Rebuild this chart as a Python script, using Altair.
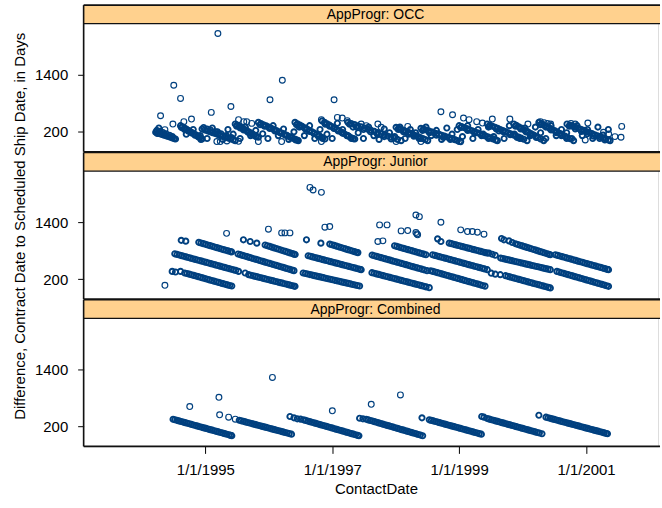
import altair as alt
import pandas as pd

# ---------------- data (day offsets from 1995-01-01, value in days) ----------------
PANELS = ["AppProgr: OCC", "AppProgr: Junior", "AppProgr: Combined"]

# ---- OCC ----
OCC_T1 = [(-286,190),(-274,176),(-262,160),(-250,146),(-238,131),(-226,116),(-214,101),(-202,86),(-190,70),(-180,58),(-172,49),
          (-280,230),(-262,212),(-244,186),(-226,160),(-206,128),(-190,100),(-277,168),(-268,280)]
OCC_T2 = [(-143,330),(-132,306),(-121,282),(-110,258),(-99,233),(-88,208),(-77,184),(-66,160),(-55,136),(-44,110),(-33,86),(-24,62),(-19,49),
          (-138,290),(-120,250),(-100,216),(-80,176),(-60,130),(-40,92),(-26,40)]
OCC_T3 = [(-19,259),(-4,240),(11,221),(26,202),(41,183),(56,164),(71,145),(86,126),(101,107),(116,88),(131,68),(146,49),(160,31),(172,15),
          (-10,290),(10,260),(30,236),(60,200),(90,160),(120,120),(150,80)]
OCC_T4 = [(172,364),(183,341),(194,318),(205,295),(216,272),(227,249),(238,225),(249,202),(260,178),(271,155),(282,132),(294,108),(305,85),
          (180,320),(200,280),(220,240),(245,190),(270,140),(290,100)]
OCC_T5 = [(305,400),(320,375),(335,350),(350,325),(365,300),(380,274),(395,249),(410,224),(425,199),(440,174),(455,149),(470,124),(485,99),(500,73),(515,48),(528,27),(535,15),
          (315,350),(340,320),(370,270),(400,220),(430,180),(460,130),(490,80),(520,30)]
OCC_T6 = [(516,400),(530,371),(544,343),(558,314),(572,286),(586,257),(600,228),(614,200),(628,171),(642,143),(656,114),(670,86),(688,49),
          (525,350),(550,310),(575,260),(600,210),(625,160),(650,110),(675,60)]
OCC_T7 = [(672,430),(686,400),(700,371),(714,341),(728,312),(742,282),(756,253),(770,223),(784,194),(798,164),(812,134),(826,105),(840,75),(852,55),(860,49),
          (690,360),(715,320),(740,270),(765,220),(790,170),(815,120),(840,60)]
OCC_T8 = [(821,400),(840,376),(859,352),(878,328),(897,304),(916,280),(935,256),(954,232),(973,208),(992,184),(1011,160),(1030,136),(1049,112),(1068,88),(1087,64),(1106,40),(1127,15),
          (830,360),(870,300),(910,250),(950,200),(990,150),(1030,100),(1070,50)]
OCC_T9 = [(1098,295),(1112,274),(1126,252),(1140,231),(1154,209),(1168,188),(1182,166),(1196,145),(1210,123),(1224,101),(1238,80),(1252,58),(1266,37),(1280,15),
          (1110,250),(1140,200),(1170,150),(1200,110),(1230,60)]
OCC_T10 = [(1241,274),(1256,256),(1271,238),(1286,219),(1301,201),(1316,183),(1331,164),(1346,146),(1361,128),(1376,110),(1391,91),(1406,73),(1421,55),(1436,36),(1451,18),(1470,-6),
           (1250,230),(1290,180),(1330,130),(1370,80),(1410,40)]
OCC_T11 = [(1461,330),(1476,309),(1491,287),(1506,266),(1521,244),(1536,223),(1551,201),(1566,180),(1581,158),(1596,137),(1611,115),(1626,94),(1641,72),(1656,51),(1671,29),(1681,15),
           (1470,290),(1510,230),(1550,170),(1590,120),(1630,60)]
OCC_T12 = [(1623,364),(1638,341),(1653,318),(1668,296),(1683,273),(1698,250),(1713,227),(1728,204),(1743,181),(1758,158),(1773,135),(1788,112),(1803,89),(1818,66),(1833,44),(1852,15),
           (1635,320),(1675,260),(1715,200),(1755,140),(1795,80)]
OCC_T13 = [(1776,364),(1790,336),(1804,307),(1818,279),(1832,250),(1846,222),(1860,193),(1874,165),(1888,137),(1902,108),(1916,80),(1930,51),(1948,15),
           (1785,320),(1815,260),(1845,200),(1875,140),(1905,80)]
OCC_T14 = [(1920,400),(1935,371),(1950,342),(1965,313),(1980,284),(1995,255),(2010,227),(2025,198),(2040,169),(2055,140),(2070,111),(2085,82),(2100,54),(2120,15),
           (1930,350),(1960,300),(1990,240),(2020,180),(2050,120),(2080,60)]
OCC_T15 = [(2082,364),(2098,342),(2114,319),(2130,297),(2146,274),(2162,252),(2178,229),(2194,207),(2210,184),(2226,162),(2242,139),(2258,117),(2274,94),(2290,72),(2306,49),(2320,29),(2330,15),
           (2095,320),(2130,260),(2165,210),(2200,160),(2235,110),(2270,60),(2300,30)]
OCC_FILL = [(-110,150),(-70,250),(-30,120),(10,60),(40,280),(70,200),(100,40),(130,250),(160,150),(200,60),(230,300),(260,120),
            (290,230),(330,160),(360,60),(390,330),(420,120),(450,260),(480,40),(510,200),(540,300),(570,120),(600,330),(630,60),
            (660,250),(700,150),(730,60),(760,380),(790,250),(820,120),(850,300),(880,180),(910,60),(940,300),(970,120),(1000,40),
            (1030,260),(1060,180),(1090,100),(1120,300),(1150,60),(1180,250),(1210,180),(1240,60),(1270,300),(1300,120),(1330,230),
            (1360,40),(1390,280),(1420,150),(1450,250),(1480,100),(1510,330),(1540,60),(1570,250),(1600,150),(1630,300),(1660,100),
            (1690,220),(1720,60),(1750,330),(1780,150),(1810,60),(1840,280),(1870,120),(1900,300),(1930,180),(1960,60),(1990,330),
            (2020,120),(2050,250),(2080,180),(2110,60),(2140,330),(2170,120),(2200,250),(2230,60),(2260,300),(2290,130),(2320,250)]
OCC_OUT = [(72,2275),(-182,1183),(-143,904),(-258,540),(-187,364),(-233,246),(-124,414),(-80,469),(34,610),(147,735),
           (191,456),(221,414),(238,414),(267,378),(372,876),(443,1288),(668,456),(741,876),(760,504),(788,490),(817,435),
           (897,364),(926,330),(993,364),(1012,295),(1165,315),(1257,246),(1356,624),(1423,561),(1486,490),(1518,456),
           (1562,414),(1595,385),(1652,469),(1753,469),(1857,364),(1929,414),(1950,393),(1969,378),(1988,364),(2105,378),
           (2129,364),(2202,385),(2187,28),(2358,99),(2393,85),(2397,315),(2292,190),(2322,154),
           (66,-6),(86,-6),(124,7),(191,0),(305,-6),(439,-6),(668,-6),(1098,-6),(1241,-6),(1461,-6)]

# ---- Junior ----
JUN_L1 = [(-191,364),(-172,351),(-143,364),(-119,330),(-106,320),(-93,306),(-80,293),(-67,280),(-54,266),(-41,253),(-28,239),(-15,226),(-2,212),(11,199),(24,185),(37,172),(50,158),(63,145),(76,132),(89,118),(102,105),(115,91),(128,78),(140,66),(152,55)]
JUN_M1 = [(-176,735),(-163,722),(-150,709),(-137,696),(-124,683),(-111,670),(-98,657),(-85,644),(-72,631),(-59,618),(-46,605),(-33,592),(-20,579),(-7,566),(6,553),(19,540),(32,527),(45,514),(58,501),(71,488),(84,475),(97,462),(110,449),(123,436),(136,423),(149,410),(162,397),(175,385)]
JUN_U1 = [(-139,1019),(-113,1002),(-38,977),(-25,963),(-12,949),(1,935),(14,921),(27,907),(40,893),(53,879),(66,865),(79,851),(92,837),(105,823),(118,809),(131,795),(144,782),(151,775)]
JUN_M2 = [(188,730),(201,716),(214,702),(227,688),(240,674),(253,659),(266,645),(279,631),(292,617),(305,603),(318,589),(331,575),(344,560),(357,546),(370,532),(383,518),(396,504),(409,490),(422,476),(435,462),(448,448),(461,433),(474,419),(487,405),(500,391),(510,380)]
JUN_L2 = [(191,364),(229,330),(249,295),(262,283),(275,271),(288,259),(301,247),(314,235),(327,223),(340,211),(353,199),(366,187),(379,175),(392,163),(405,151),(418,139),(431,127),(444,115),(457,103),(470,91),(483,79),(496,67),(508,56),(516,49)]
JUN_U2 = [(219,1030),(258,994),(296,960),(344,920),(357,905),(370,890),(383,875),(396,860),(409,845),(422,830),(435,815),(448,800),(461,785),(474,770),(487,755),(500,740),(510,728),(517,720)]
JUN_U3 = [(582,1030),(665,960),(716,940),(729,925),(742,911),(755,896),(768,882),(781,867),(794,852),(807,838),(820,823),(833,809),(846,794),(859,780),(870,768),(878,760)]
JUN_M3 = [(592,694),(605,682),(618,669),(631,657),(644,644),(657,632),(670,619),(683,607),(696,594),(709,582),(722,569),(735,557),(748,544),(761,532),(774,519),(787,507),(800,494),(813,482),(826,469),(839,457),(852,444),(865,432),(878,419),(889,408),(897,400)]
JUN_L3 = [(563,330),(576,319),(589,308),(602,297),(615,286),(628,275),(641,264),(654,253),(667,242),(680,231),(693,220),(706,209),(719,198),(732,187),(745,176),(758,165),(771,154),(784,143),(797,132),(810,121),(823,110),(836,99),(849,88),(862,77),(875,66),(888,55)]
JUN_U4 = [(1089,904),(1102,890),(1115,877),(1128,863),(1141,850),(1154,836),(1167,822),(1180,809),(1193,795),(1206,782),(1219,768),(1232,754),(1245,741),(1258,727),(1270,714)]
JUN_M4 = [(960,708),(973,694),(986,681),(999,667),(1012,654),(1025,640),(1038,627),(1051,613),(1064,600),(1077,586),(1090,573),(1103,559),(1116,546),(1129,532),(1142,519),(1155,505),(1168,492),(1181,478),(1194,465),(1207,451),(1220,438),(1233,424),(1246,411),(1259,397),(1276,379)]
JUN_L4 = [(959,337),(972,325),(985,312),(998,300),(1011,287),(1024,275),(1037,262),(1050,250),(1063,237),(1076,225),(1089,212),(1102,200),(1115,187),(1128,175),(1141,162),(1154,150),(1167,137),(1180,125),(1193,112),(1206,100),(1219,87),(1232,75),(1245,62),(1258,50),(1271,37),(1289,21)]
JUN_U5 = [(1337,1050),(1356,994),(1404,960),(1417,948),(1430,935),(1443,923),(1456,910),(1469,898),(1482,885),(1495,873),(1508,860),(1521,848),(1534,835),(1547,823),(1560,810),(1573,798),(1586,785),(1599,773),(1612,760),(1623,750)]
JUN_M5 = [(1308,715),(1321,702),(1334,689),(1347,676),(1360,663),(1373,650),(1386,637),(1399,624),(1412,611),(1425,598),(1438,585),(1451,572),(1464,559),(1477,546),(1490,533),(1503,520),(1516,507),(1529,494),(1542,481),(1555,468),(1568,455),(1581,442),(1594,429),(1607,416),(1623,400)]
JUN_L5 = [(1297,378),(1310,364),(1323,351),(1336,337),(1349,324),(1362,310),(1375,297),(1388,283),(1401,270),(1414,256),(1427,243),(1440,229),(1453,216),(1466,202),(1479,189),(1492,175),(1505,162),(1518,148),(1531,135),(1544,121),(1557,108),(1570,94),(1583,81),(1596,67),(1610,53)]
JUN_U6 = [(1705,1057),(1719,1030),(1748,1008),(1767,973),(1786,946),(1799,931),(1812,916),(1825,901),(1838,886),(1851,871),(1864,856),(1877,841),(1890,826),(1903,811),(1916,796),(1929,781),(1942,766),(1955,751),(1968,736),(1978,724),(1986,715)]
JUN_M6 = [(1633,750),(1652,725),(1669,704),(1700,645),(1713,634),(1726,623),(1739,612),(1752,601),(1765,590),(1778,578),(1791,567),(1804,556),(1817,545),(1830,534),(1843,523),(1856,511),(1869,500),(1882,489),(1895,478),(1908,467),(1921,456),(1934,445),(1947,433),(1960,422),(1973,411),(1986,400)]
JUN_L6 = [(1646,326),(1669,305),(1698,295),(1728,273),(1741,260),(1754,247),(1767,234),(1780,221),(1793,208),(1806,195),(1819,182),(1832,169),(1845,156),(1858,143),(1871,130),(1884,117),(1897,104),(1910,91),(1923,78),(1936,65),(1949,52),(1962,39),(1975,26),(1986,15)]
JUN_M7 = [(2015,715),(2028,702),(2041,688),(2054,675),(2067,662),(2080,648),(2093,635),(2106,621),(2119,608),(2132,595),(2145,581),(2158,568),(2171,555),(2184,541),(2197,528),(2210,514),(2223,501),(2236,488),(2249,474),(2262,461),(2275,448),(2288,434),(2301,421),(2314,407),(2321,400)]
JUN_L7 = [(2024,364),(2037,350),(2050,336),(2063,323),(2076,309),(2089,295),(2102,281),(2115,268),(2128,254),(2141,240),(2154,226),(2167,213),(2180,199),(2193,185),(2206,171),(2219,158),(2232,144),(2245,130),(2258,116),(2271,103),(2284,89),(2297,75),(2310,61),(2321,49)]
JUN_OUT = [(-233,70),(122,1166),(363,1254),(439,1176),(458,1176),(487,1176),(688,1296),(716,1309),(602,2136),(620,2080),(668,2031),
           (1003,1345),(1046,1345),(993,994),(1022,1008),(1127,1218),(1165,1225),(1212,1554),(1232,1519),(1212,1183),(1222,1135),(1218,1155),
           (1356,1401),(1470,1240),(1509,1204),(1537,1204),(1566,1191),(1604,1149)]

# ---- Combined ----
COM_A = [(-186,353),(-176,343),(-164,330),(-152,318),(-140,306),(-128,293),(-116,281),(-104,269),(-92,257),(-80,244),(-68,232),(-56,220),(-44,208),(-32,195),(-20,183),(-8,171),(4,159),(16,146),(28,134),(40,122),(52,110),(64,97),(76,85),(88,73),(100,61),(112,48),(124,36),(136,24),(146,13),(152,6)]
COM_B = [(195,332),(207,320),(219,309),(231,297),(243,285),(255,273),(267,262),(279,250),(291,238),(303,227),(315,215),(327,203),(339,191),(351,180),(363,168),(375,156),(387,145),(399,133),(411,121),(423,110),(435,98),(447,86),(459,74),(471,63),(483,51),(496,38)]
COM_C = [(487,410),(510,383),(529,362),(548,354),(565,341),(577,328),(589,316),(601,303),(613,290),(625,278),(637,265),(649,253),(661,240),(673,227),(685,215),(697,202),(709,189),(721,177),(733,164),(745,151),(757,139),(769,126),(781,114),(793,101),(805,88),(817,76),(829,63),(841,50),(853,38),(865,25),(877,12),(884,5)]
COM_D = [(888,374),(907,362),(926,353),(938,340),(950,327),(962,315),(974,302),(986,289),(998,276),(1010,263),(1022,250),(1034,237),(1046,224),(1058,212),(1070,199),(1082,186),(1094,173),(1106,160),(1118,147),(1130,134),(1142,122),(1154,109),(1166,96),(1178,83),(1190,70),(1202,57),(1214,45),(1226,32),(1238,19),(1251,5)]
COM_E = [(1247,383),(1289,341),(1301,329),(1313,317),(1325,305),(1337,293),(1349,280),(1361,268),(1373,256),(1385,244),(1397,232),(1409,220),(1421,208),(1433,196),(1445,184),(1457,172),(1469,159),(1481,147),(1493,135),(1505,123),(1517,111),(1529,99),(1541,87),(1553,74),(1565,62),(1577,50),(1589,38)]
COM_F = [(1591,410),(1604,396),(1623,368),(1635,356),(1647,343),(1659,331),(1671,319),(1683,307),(1695,294),(1707,282),(1719,270),(1731,258),(1743,245),(1755,233),(1767,221),(1779,209),(1791,196),(1803,184),(1815,172),(1827,160),(1839,148),(1851,135),(1863,123),(1875,111),(1887,99),(1899,87),(1911,74),(1923,62),(1938,47)]
COM_G = [(1920,437),(1961,396),(1973,384),(1985,372),(1997,360),(2009,349),(2021,337),(2033,325),(2045,313),(2057,301),(2069,290),(2081,278),(2093,266),(2105,254),(2117,242),(2129,230),(2141,219),(2153,207),(2165,195),(2177,183),(2189,171),(2201,160),(2213,148),(2225,136),(2237,124),(2249,112),(2261,101),(2273,89),(2285,77),(2297,65),(2309,53),(2315,47)]
COM_OUT = [(-90,620),(78,815),(82,446),(134,396),(172,354),(386,1235),(731,530),(955,668),(1123,866)]

# streak lists ("band") and isolated points ("out")
GROUPS = {
    "AppProgr: OCC": ([OCC_T1, OCC_T2, OCC_T3, OCC_T4, OCC_T5, OCC_T6, OCC_T7, OCC_T8, OCC_T9, OCC_T10,
                       OCC_T11, OCC_T12, OCC_T13, OCC_T14, OCC_T15, OCC_FILL], [OCC_OUT]),
    "AppProgr: Junior": ([JUN_L1, JUN_M1, JUN_U1, JUN_M2, JUN_L2, JUN_U2, JUN_U3, JUN_M3, JUN_L3, JUN_U4, JUN_M4,
                          JUN_L4, JUN_U5, JUN_M5, JUN_L5, JUN_U6, JUN_M6, JUN_L6, JUN_M7, JUN_L7], [JUN_OUT]),
    "AppProgr: Combined": ([COM_A, COM_B, COM_C, COM_D, COM_E, COM_F, COM_G], [COM_OUT]),
}

BASE = pd.Timestamp("1995-01-01")
TICK_YEARS = [1995, 1997, 1999, 2001]
Y_TICKS = [200, 1400]

# ---------------- layout ----------------
W = 577.0          # visible plot width
H = 147.3          # strip + plot height of one panel
STRIP = 18.7
FONT = "Liberation Sans"
STRIP_FILL = "#FFD18E"
PT_COLOR = "#00407F"
LINE = "#111111"

X_DOMAIN = [alt.DateTime(year=1993, month=1, date=30, utc=True),
            alt.DateTime(year=2002, month=2, date=19, utc=True)]
Y_DOMAIN = [-220, 2873]


def panel_df(name):
    bands, outs = GROUPS[name]
    rows = [(d, v, "band") for g in bands for d, v in g] + [(d, v, "out") for g in outs for d, v in g]
    df = pd.DataFrame(rows, columns=["day", "value", "kind"])
    df["ContactDate"] = (BASE + pd.to_timedelta(df["day"], unit="D")).dt.strftime("%Y-%m-%d")
    return df[["ContactDate", "value", "kind"]]


one = pd.DataFrame({"k": [0]})


def panel(name, show_x, show_ytitle):
    if show_x:
        xaxis = alt.Axis(values=[alt.DateTime(year=y, month=1, date=1, utc=True) for y in TICK_YEARS],
                         labelExpr="utcFormat(datum.value, '%-m/%-d/%Y')",
                         tickSize=7, labelPadding=9, title="ContactDate",
                         titlePadding=4, titleX=293.7, domain=False, grid=False)
    else:
        xaxis = None
    yaxis = alt.Axis(values=Y_TICKS, format="d", tickSize=6, labelPadding=10, domain=False, grid=False,
                     title="Difference, Contract Date to Scheduled Ship Date, in Days" if show_ytitle else None,
                     titlePadding=7, titleY=H / 2)
    enc = dict(
        x=alt.X("ContactDate:T", scale=alt.Scale(type="utc", domain=X_DOMAIN), axis=xaxis),
        y=alt.Y("value:Q", scale=alt.Scale(domain=Y_DOMAIN, nice=False, zero=False), axis=yaxis),
    )
    base = alt.Chart(panel_df(name))
    pts_band = base.transform_filter(alt.datum.kind == "band").mark_point(
        shape="circle", filled=False, color=PT_COLOR, size=28, strokeWidth=1.9, opacity=1
    ).encode(**enc)
    pts_out = base.transform_filter(alt.datum.kind == "out").mark_point(
        shape="circle", filled=False, color=PT_COLOR, size=34, strokeWidth=1.15, opacity=1
    ).encode(**enc)
    strip = alt.Chart(one).mark_rect(fill=STRIP_FILL, strokeWidth=0).encode(
        x=alt.value(0), x2=alt.value(W + 2), y=alt.value(0), y2=alt.value(STRIP))
    label = alt.Chart(one).mark_text(font=FONT, fontSize=14, align="center", baseline="middle",
                                     color="black").encode(
        x=alt.value(293.2), y=alt.value(STRIP / 2 + 0.5), text=alt.value(name))
    top = alt.Chart(one).mark_rule(color=LINE, strokeWidth=1.6).encode(
        x=alt.value(0), x2=alt.value(W + 2), y=alt.value(0))
    mid = alt.Chart(one).mark_rule(color=LINE, strokeWidth=1.3).encode(
        x=alt.value(0), x2=alt.value(W + 2), y=alt.value(STRIP))
    bot = alt.Chart(one).mark_rule(color=LINE, strokeWidth=1.6).encode(
        x=alt.value(0), x2=alt.value(W + 2), y=alt.value(H))
    left = alt.Chart(one).mark_rule(color=LINE, strokeWidth=1.6).encode(
        x=alt.value(0), y=alt.value(0), y2=alt.value(H))
    return alt.layer(strip, label, pts_band, pts_out, top, mid, bot, left).properties(width=W, height=H)


chart = alt.vconcat(
    panel(PANELS[0], False, False),
    panel(PANELS[1], False, True),
    panel(PANELS[2], True, False),
    spacing=0, bounds="flush",
).configure_view(stroke=None).configure(
    padding={"left": 12, "top": 2, "right": 0, "bottom": 0},
    font=FONT,
).configure_axis(
    labelFont=FONT, labelFontSize=15, labelColor="black",
    titleFont=FONT, titleFontSize=15, titleFontWeight="normal", titleColor="black",
    tickColor="black", tickWidth=1,
).configure_concat(spacing=0)

chart.save("out.html", embed_options={"renderer": "svg", "actions": False})
